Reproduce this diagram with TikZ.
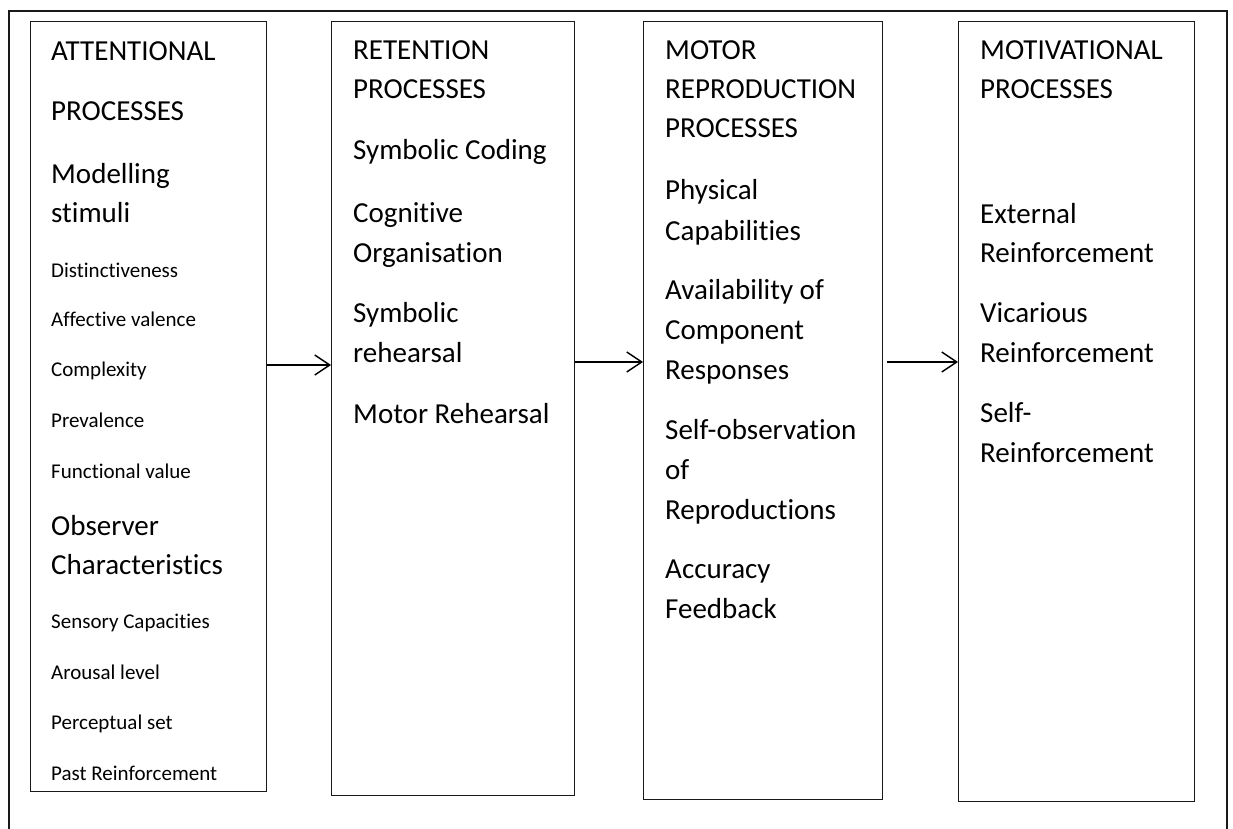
\documentclass[tikz,border=0pt]{standalone}
\usepackage{fontspec}
\setmainfont[RawFeature=-liga]{Carlito}
\usetikzlibrary{arrows.meta}

\begin{document}
\begin{tikzpicture}[x=1pt,y=-1pt,
  frame/.style={draw=black!90,line width=1.4pt},
  stage/.style={draw=black!90,line width=1.4pt,inner sep=0pt,anchor=north west},
  big/.style={anchor=base west,inner sep=0pt,font=\fontsize{29}{35}\selectfont},
  small/.style={anchor=base west,inner sep=0pt,font=\fontsize{21}{25}\selectfont},
  flow/.style={draw=black,line width=1.4pt,-{Straight Barb[length=15pt,width=20pt,line width=1.4pt]}}
]
\useasboundingbox (0,0) rectangle (1233,829);

% outer frame, open at the bottom edge
\draw[frame] (9,829) -- (9,11) -- (1227,11) -- (1227,829);

% the four process columns
\node[stage,minimum width=236pt,minimum height=770pt] (b1) at (30,21) {};
\node[stage,minimum width=243pt,minimum height=774pt] (b2) at (331,21) {};
\node[stage,minimum width=239pt,minimum height=778pt] (b3) at (643,21) {};
\node[stage,minimum width=236pt,minimum height=780pt] (b4) at (958,21) {};

% attentional processes
\node[big] (a1) at (51,61) {ATTENTIONAL};
\node[big] (a2) at (51,121) {PROCESSES};
\node[big] (a3) at (51,184) {Modelling};
\node[big] (a4) at (51,222) {stimuli};
\node[small] (a5) at (51,277) {Distinctiveness};
\node[small] (a6) at (51,326) {Affective valence};
\node[small] (a7) at (51,376) {Complexity};
\node[small] (a8) at (51,427) {Prevalence};
\node[small] (a9) at (51,478) {Functional value};
\node[big] (a10) at (51,535) {Observer};
\node[big] (a11) at (51,574) {Characteristics};
\node[small] (a12) at (51,628) {Sensory Capacities};
\node[small] (a13) at (51,679) {Arousal level};
\node[small] (a14) at (51,729) {Perceptual set};
\node[small] (a15) at (51,780) {Past Reinforcement};

% retention processes
\node[big] (r1) at (353,60) {RETENTION};
\node[big] (r2) at (353,99) {PROCESSES};
\node[big] (r3) at (353,160) {Symbolic Coding};
\node[big] (r4) at (353,222) {Cognitive};
\node[big] (r5) at (353,262) {Organisation};
\node[big] (r6) at (353,322) {Symbolic};
\node[big] (r7) at (353,362) {rehearsal};
\node[big] (r8) at (353,423) {Motor Rehearsal};

% motor reproduction processes
\node[big] (m1) at (665,60) {MOTOR};
\node[big] (m2) at (665,99) {REPRODUCTION};
\node[big] (m3) at (665,138) {PROCESSES};
\node[big] (m4) at (665,200) {Physical};
\node[big] (m5) at (665,240) {Capabilities};
\node[big] (m6) at (665,299) {Availability of};
\node[big] (m7) at (665,339) {Component};
\node[big] (m8) at (665,379) {Responses};
\node[big] (m9) at (665,439) {Self-observation};
\node[big] (m10) at (665,479) {of};
\node[big] (m11) at (665,519) {Reproductions};
\node[big] (m12) at (665,578) {Accuracy};
\node[big] (m13) at (665,618) {Feedback};

% motivational processes
\node[big] (v1) at (980,60) {MOTIVATIONAL};
\node[big] (v2) at (980,99) {PROCESSES};
\node[big] (v3) at (980,223) {External};
\node[big] (v4) at (980,262) {Reinforcement};
\node[big] (v5) at (980,322) {Vicarious};
\node[big] (v6) at (980,362) {Reinforcement};
\node[big] (v7) at (980,422) {Self-};
\node[big] (v8) at (980,462) {Reinforcement};

% flow between the stages
\draw[flow] (b1.east |- 0,365) -- (b2.west |- 0,365);
\draw[flow] (b2.east |- 0,362) -- (b3.west |- 0,362);
\draw[flow] ([xshift=4pt]b3.east |- 0,362) -- (b4.west |- 0,362);
\end{tikzpicture}
\end{document}
